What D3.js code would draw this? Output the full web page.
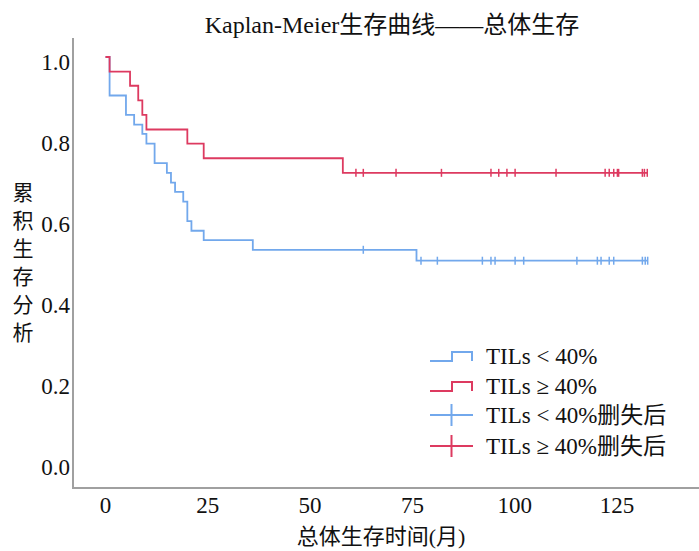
<!DOCTYPE html>
<html>
<head>
<meta charset="utf-8">
<script src="https://cdn.jsdelivr.net/npm/d3@7/dist/d3.min.js"></script>
<style>
  html, body { margin: 0; padding: 0; background: #fff; }
  svg { display: block; }
</style>
</head>
<body>
<div id="chart"></div>
<script>
// ---- Data ----
// TILs < 40% (blue): event times (months) and survival after each step
const lowTimes = [0, 1, 5, 7, 9, 10, 12, 15, 16, 17, 19, 20, 21, 24, 36, 76];
const lowSurv = [1, 0.905, 0.857, 0.833, 0.810, 0.786, 0.738, 0.714, 0.690, 0.667, 0.643, 0.595, 0.571, 0.548, 0.524, 0.497];
const lowCensored = [63, 77.1, 81.1, 92.1, 94.2, 95.2, 100.1, 102.2, 115.2, 120.2, 121.1, 123.1, 124.2, 131.2, 131.9, 132.5];

// TILs >= 40% (red)
const highTimes = [0, 1, 6, 8, 9, 10, 20, 24, 58];
const highSurv = [1, 0.964, 0.929, 0.893, 0.857, 0.821, 0.786, 0.750, 0.714];
const highCensored = [61.2, 63, 71, 82.1, 94.2, 96.1, 98.1, 100.1, 110.1, 122.1, 123.1, 124.2, 125.1, 125.4, 131.2, 131.7, 132.4];

const xTicks = [0, 25, 50, 75, 100, 125];
const yTicks = [0, 0.2, 0.4, 0.6, 0.8, 1.0];

const legendLabels = ['TILs < 40%', 'TILs ≥ 40%', 'TILs < 40%删失后', 'TILs ≥ 40%删失后'];

const COLORS = {
  low: '#72a8ec',
  high: '#dd3a60',
  axis: '#a0a0a0',
  text: '#111'
};
const FONT = '"Liberation Serif", "Times New Roman", "Noto Sans CJK SC", serif';

// ---- Layout ----
const W = 699, H = 551;

const svg = d3.select('#chart')
  .append('svg')
  .attr('width', W)
  .attr('height', H)
  .attr('viewBox', `0 0 ${W} ${H}`);

const x = d3.scaleLinear().domain([0, 125]).range([105.5, 617]);
const y = d3.scaleLinear().domain([0, 1]).range([462, 57]);

// Title
svg.append('text')
  .attr('x', 392)
  .attr('y', 33)
  .attr('text-anchor', 'middle')
  .attr('font-family', FONT)
  .attr('font-size', '24px')
  .attr('fill', COLORS.text)
  .text('Kaplan-Meier生存曲线——总体生存');

// Axis lines (no tick marks in the reference)
svg.append('line')
  .attr('x1', 73).attr('x2', 73)
  .attr('y1', 38).attr('y2', 488)
  .attr('stroke', COLORS.axis)
  .attr('stroke-width', 2);

svg.append('line')
  .attr('x1', 72).attr('x2', 699)
  .attr('y1', 488).attr('y2', 488)
  .attr('stroke', COLORS.axis)
  .attr('stroke-width', 2);

// Tick labels
svg.append('g')
  .selectAll('text')
  .data(xTicks)
  .join('text')
  .attr('x', d => x(d))
  .attr('y', 505)
  .attr('dy', '0.35em')
  .attr('text-anchor', 'middle')
  .attr('font-family', FONT)
  .attr('font-size', '23px')
  .attr('fill', COLORS.text)
  .text(d => d);

svg.append('g')
  .selectAll('text')
  .data(yTicks)
  .join('text')
  .attr('x', 70)
  .attr('y', d => y(d) + 5)
  .attr('dy', '0.35em')
  .attr('text-anchor', 'end')
  .attr('font-family', FONT)
  .attr('font-size', '23px')
  .attr('fill', COLORS.text)
  .text(d => d3.format('.1f')(d));

// Axis titles
svg.append('text')
  .attr('x', 381)
  .attr('y', 536)
  .attr('dy', '0.35em')
  .attr('text-anchor', 'middle')
  .attr('font-family', FONT)
  .attr('font-size', '22px')
  .attr('fill', COLORS.text)
  .text('总体生存时间(月)');

// vertical y label, one character per line
svg.append('g')
  .selectAll('text')
  .data('累积生存分析'.split(''))
  .join('text')
  .attr('x', 23)
  .attr('y', (d, i) => 193 + i * 28)
  .attr('dy', '0.35em')
  .attr('text-anchor', 'middle')
  .attr('font-family', FONT)
  .attr('font-size', '21px')
  .attr('fill', COLORS.text)
  .text(d => d);

// ---- Survival curves ----
function stepPoints(times, surv, censored) {
  const pts = times.map((t, i) => ({ t, s: surv[i] }));
  const last = d3.max(censored);
  pts.push({ t: last, s: surv[surv.length - 1] });
  return pts;
}

function survAt(times, surv, t) {
  const i = d3.bisectRight(times, t) - 1;
  return surv[Math.max(0, i)];
}

const line = d3.line()
  .x(d => x(d.t))
  .y(d => y(d.s))
  .curve(d3.curveStepAfter);

const groups = [
  { times: lowTimes, surv: lowSurv, cens: lowCensored, color: COLORS.low },
  { times: highTimes, surv: highSurv, cens: highCensored, color: COLORS.high }
];

groups.forEach(g => {
  svg.append('path')
    .datum(stepPoints(g.times, g.surv, g.cens))
    .attr('d', line)
    .attr('fill', 'none')
    .attr('stroke', g.color)
    .attr('stroke-width', 1.8);

  svg.append('g')
    .selectAll('line')
    .data(g.cens)
    .join('line')
    .attr('x1', d => x(d))
    .attr('x2', d => x(d))
    .attr('y1', d => y(survAt(g.times, g.surv, d)) - 4)
    .attr('y2', d => y(survAt(g.times, g.surv, d)) + 4)
    .attr('stroke', g.color)
    .attr('stroke-width', 1.5);
});

// ---- Legend ----
const legend = svg.append('g').attr('class', 'legend');
const legendRows = [
  { label: legendLabels[0], color: COLORS.low, kind: 'step', cy: 356 },
  { label: legendLabels[1], color: COLORS.high, kind: 'step', cy: 386 },
  { label: legendLabels[2], color: COLORS.low, kind: 'cross', cy: 415 },
  { label: legendLabels[3], color: COLORS.high, kind: 'cross', cy: 446 }
];

legendRows.forEach(row => {
  const item = legend.append('g');
  if (row.kind === 'step') {
    const b = row.cy + 5, t = row.cy - 4;
    item.append('path')
      .attr('d', `M430,${b}H452V${t}H472V${b}`)
      .attr('fill', 'none')
      .attr('stroke', row.color)
      .attr('stroke-width', 2);
  } else {
    item.append('line')
      .attr('x1', 430).attr('x2', 473)
      .attr('y1', row.cy).attr('y2', row.cy)
      .attr('stroke', row.color)
      .attr('stroke-width', 2);
    item.append('line')
      .attr('x1', 451.5).attr('x2', 451.5)
      .attr('y1', row.cy - 11).attr('y2', row.cy + 11)
      .attr('stroke', row.color)
      .attr('stroke-width', 2);
  }
  item.append('text')
    .attr('x', 486)
    .attr('y', row.cy)
    .attr('dy', '0.35em')
    .attr('font-family', FONT)
    .attr('font-size', '23px')
    .attr('fill', COLORS.text)
    .text(row.label);
});
</script>
</body>
</html>
